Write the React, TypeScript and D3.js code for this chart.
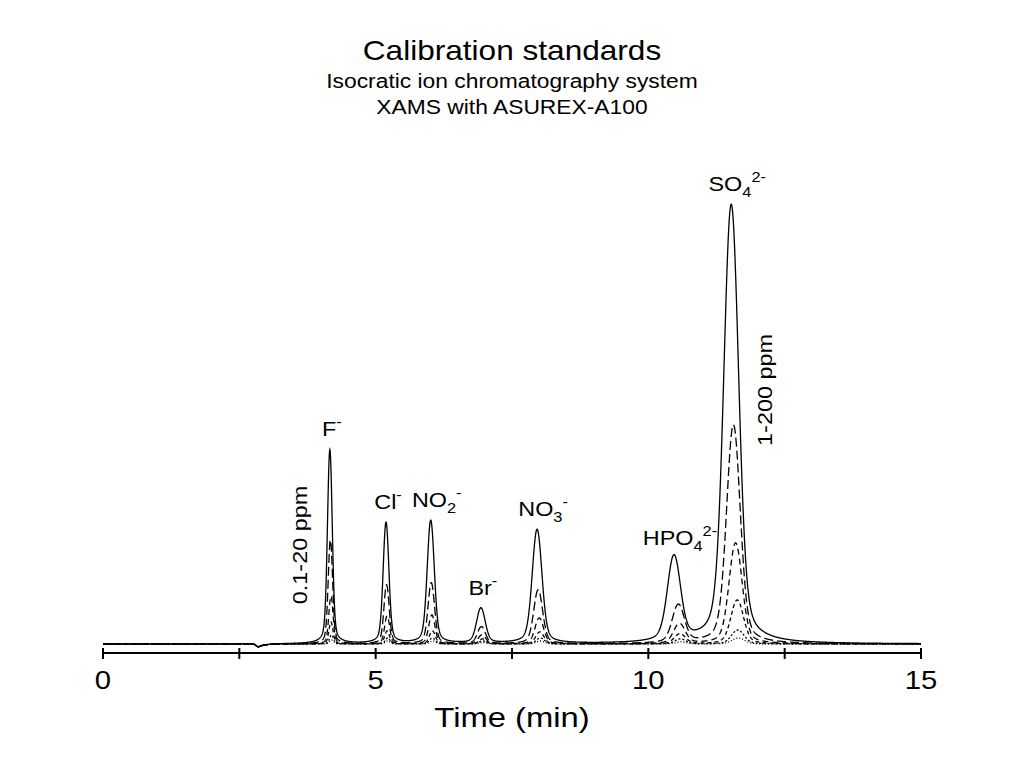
import { useRef, useEffect } from "react";
import * as d3 from "d3";

// ions in elution order
const ions = ["F", "Cl", "NO2", "Br", "NO3", "HPO4", "SO4"];
// label parts: base text, subscript, superscript charge
const labelBase = ["F", "Cl", "NO", "Br", "NO", "HPO", "SO"];
const labelSub = ["", "", "2", "", "3", "4", "4"];
const labelSup = ["-", "-", "-", "-", "-", "2-", "2-"];

// retention times (min), one row per standard level (highest concentration first)
const retention = [
    [4.16, 5.19, 6.01, 6.93, 7.96, 10.47, 11.52],
    [4.17, 5.2, 6.02, 6.94, 7.98, 10.55, 11.56],
    [4.18, 5.21, 6.03, 6.95, 8.0, 10.57, 11.6],
    [4.18, 5.21, 6.04, 6.96, 8.01, 10.58, 11.63],
    [4.19, 5.22, 6.04, 6.96, 8.02, 10.59, 11.64],
    [4.19, 5.22, 6.05, 6.97, 8.02, 10.6, 11.65],
]
// peak heights (µS), same layout
const heights = [
    [194, 121, 123, 35, 114, 85, 439],
    [104, 59, 61, 17, 54, 38, 219],
    [48, 28, 29, 9, 26, 20, 101],
    [22, 13, 13, 5, 12, 10, 44],
    [9, 6, 6, 3, 6, 5, 14],
    [4, 3, 3, 1.5, 3, 2, 6],
]
// peak widths (sigma, min) per ion, and width factor per level
const sigmas = [0.042, 0.05, 0.062, 0.075, 0.085, 0.115, 0.13]
const levelWidth = [1, 0.92, 0.88, 0.85, 0.85, 0.85]
const dashes = ["none", "9,4", "6,4", "4,3", "2,2", "1,2"]

// system (water) dip
const dipTime = 2.85
const dipDepth = -3

const xTicks = [0, 2.5, 5, 7.5, 10, 12.5, 15]
const xLabels = [0, 5, 10, 15]

// the original's lettering is a bit wider than Liberation Sans
const stretch = 1.17

const Chart = () => {
    const svgRef = useRef(null)
    const width = 1024
    const height = 768

    useEffect(() => {
        const svg = d3.select(svgRef.current)
        svg.selectAll("*").remove()

        const xScale = d3.scaleLinear().domain([0, 15]).range([103, 921])
        const yScale = d3.scaleLinear().domain([0, 439]).range([644, 205])

        const addText = (x, y, size, txt, rot = 0) => {
            return svg.append("g")
                .attr("transform", `translate(${x}, ${y}) rotate(${rot}) scale(${stretch}, 1)`)
                .append("text")
                .attr("text-anchor", "middle")
                .attr("font-size", size)
                .text(txt)
        }

        const times = d3.range(0, 15.0001, 0.004)
        const peak = (t, rt, h, s) => {
            const x = (t - rt) / s
            return h * (0.8 * Math.exp(-0.5 * x * x) + 0.2 / (1 + 0.3 * x * x))
        }
        const dip = t => {
            const x = t - dipTime
            if (x < 0) return dipDepth * Math.exp(-0.5 * (x / 0.04) ** 2)
            return dipDepth * Math.exp(-x / 0.12)
        }

        const line = d3.line()
            .x(d => xScale(d[0]))
            .y(d => yScale(d[1]))

        // draw smallest level first so the solid trace sits on top
        for (let lv = heights.length - 1; lv >= 0; lv--) {
            const data = times.map(t => {
                let v = dip(t)
                ions.forEach((ion, i) => {
                    v += peak(t, retention[lv][i], heights[lv][i], sigmas[i] * levelWidth[lv])
                })
                return [t, v]
            })
            svg.append("path")
                .datum(data)
                .attr("d", line)
                .attr("fill", "none")
                .attr("stroke", "#000")
                .attr("stroke-width", 1.3)
                .attr("stroke-dasharray", dashes[lv])
        }

        // axis
        const axisY = 653
        const axis = svg.append("g")
        axis.append("line")
            .attr("x1", xScale(0)).attr("x2", xScale(15))
            .attr("y1", axisY).attr("y2", axisY)
            .attr("stroke", "#000").attr("stroke-width", 2)
        axis.selectAll(".tick")
            .data(xTicks)
            .enter().append("line")
            .attr("x1", d => xScale(d)).attr("x2", d => xScale(d))
            .attr("y1", axisY - 5).attr("y2", axisY + 6)
            .attr("stroke", "#000").attr("stroke-width", 2)
        xLabels.forEach(d => addText(xScale(d), 689, 25, d))
        addText(xScale(7.5), 727, 28, "Time (min)")

        // titles
        addText(512, 60, 27, "Calibration standards")
        addText(512, 88, 19.5, "Isocratic ion chromatography system")
        addText(512, 114, 19.5, "XAMS with ASUREX-A100")

        // ion labels
        ions.forEach((ion, i) => {
            const top = yScale(heights[0][i])
            const lbl = addText(xScale(retention[0][i]) + (labelSub[i] ? 6 : 2), top - 14, 20, null)
            lbl.append("tspan").text(labelBase[i])
            if (labelSub[i]) {
                lbl.append("tspan").attr("font-size", 14).attr("dy", 6).text(labelSub[i])
                lbl.append("tspan").attr("font-size", 14).attr("dy", -15).text(labelSup[i])
            } else {
                lbl.append("tspan").attr("font-size", 14).attr("dy", -9).text(labelSup[i])
            }
        })

        // concentration ranges
        addText(307, 545, 20, "0.1-20 ppm", -90)
        addText(772, 390, 20, "1-200 ppm", -90)
    }, [])

    return (
        <svg ref={svgRef} width={width} height={height}
            style={{ position: "absolute", left: 0, top: 0, background: "#fff", fontFamily: "'Liberation Sans', Arial, sans-serif" }}>
        </svg>
    )
}

export default function App() {
    return <Chart />
}
